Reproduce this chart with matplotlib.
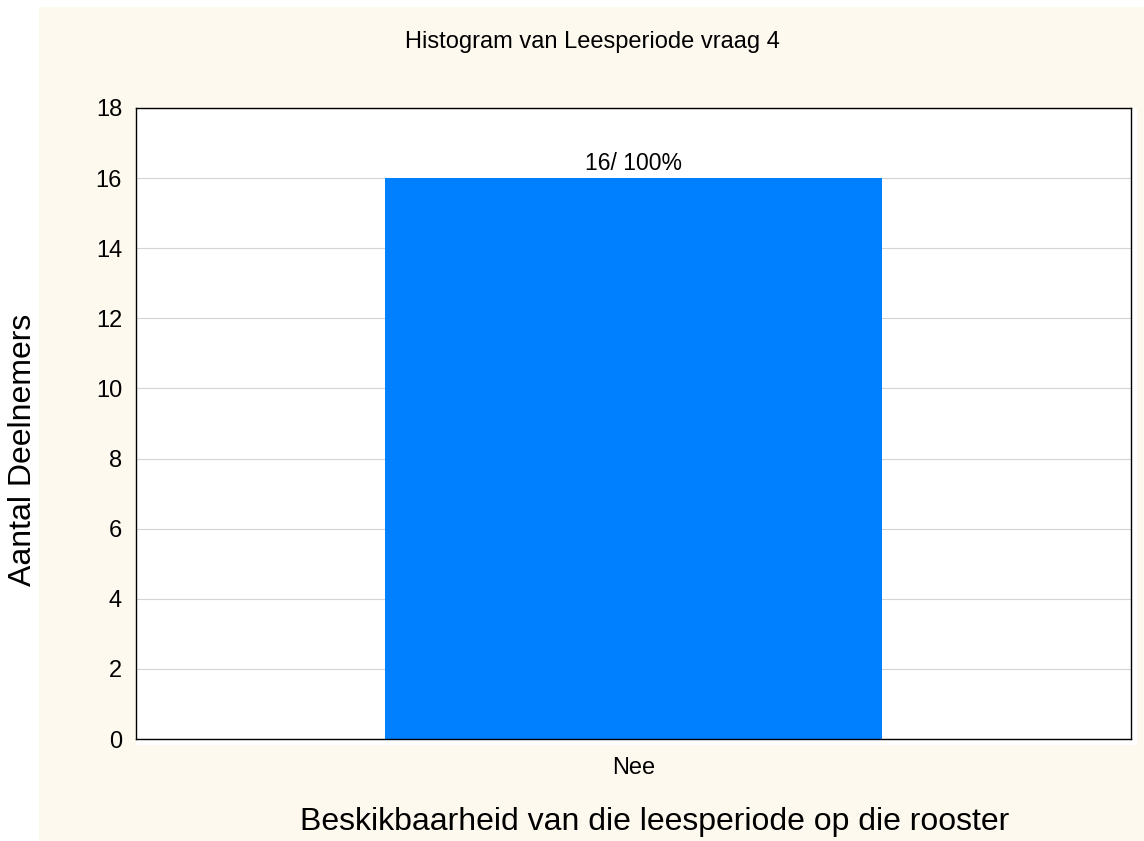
import matplotlib
matplotlib.use("Agg")
import matplotlib.pyplot as plt
from matplotlib.patches import Rectangle

categories = ["Nee"]
counts = [16]
labels = ["16/ 100%"]
yticks = [0, 2, 4, 6, 8, 10, 12, 14, 16, 18]

plt.rcParams['font.family'] = ['Liberation Sans', 'DejaVu Sans']

W, H = 1144, 841
fig = plt.figure(figsize=(W / 100, H / 100), dpi=100)
fig.patch.set_facecolor("white")

# cream panel and white frame around the plot area
fig.patches.append(Rectangle((39 / W, 0), (W - 39) / W, (H - 7) / H,
                             transform=fig.transFigure, facecolor="#fef9ef",
                             edgecolor="none", zorder=-2))
fig.patches.append(Rectangle((136 / W, (H - 745) / H), (1137 - 136) / W, (745 - 108) / H,
                             transform=fig.transFigure, facecolor="white",
                             edgecolor="none", zorder=-1))

ax = fig.add_axes([136 / W, (H - 739) / H, (1131 - 136) / W, (739 - 108) / H])
ax.set_zorder(1)
ax.set_facecolor("white")

x = list(range(len(categories)))
bars = ax.bar(x, counts, width=0.5, color="#0080ff", zorder=2)
for b, lab in zip(bars, labels):
    ax.text(b.get_x() + b.get_width() / 2, b.get_height() + 0.1, lab,
            ha="center", va="bottom", fontsize=16.5)

ax.set_xlim(-0.5, 0.5)
ax.set_ylim(0, 18)
ax.set_yticks(yticks)
ax.set_xticks(x)
ax.set_xticklabels(categories)
ax.tick_params(axis="both", length=0, labelsize=17)
ax.tick_params(axis="y", pad=10)
ax.tick_params(axis="x", pad=13)
ax.grid(axis="y", color="#d4d4d4", linewidth=0.8, zorder=1)
ax.set_axisbelow(True)
for s in ax.spines.values():
    s.set_linewidth(1.0)
    s.set_color("black")

fig.text(592 / W, 1 - 42 / H, "Histogram van Leesperiode vraag 4",
         ha="center", va="center", fontsize=17)
fig.text(655 / W, 1 - 822 / H, "Beskikbaarheid van die leesperiode op die rooster",
         ha="center", va="center", fontsize=23)
fig.text(23 / W, 1 - 450 / H, "Aantal Deelnemers", rotation=90,
         ha="center", va="center", fontsize=23)

fig.savefig("out.png", dpi=100)
